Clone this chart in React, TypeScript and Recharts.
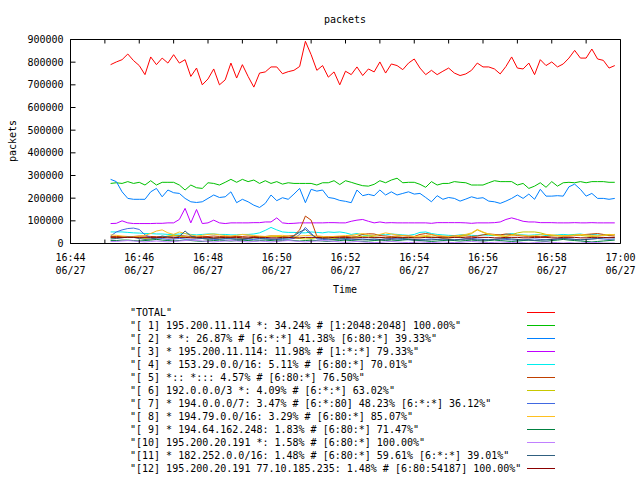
import React from 'react';
import { LineChart, Line, XAxis, YAxis } from 'recharts';

const FONT = '"DejaVu Sans Mono", "Liberation Mono", monospace';

// sample times, seconds after 16:44 (06/27)
const times = [
  70, 80, 90, 100, 110, 120, 130, 140, 150, 160,
  170, 180, 190, 200, 210, 220, 230, 240, 250, 260,
  270, 280, 290, 300, 310, 320, 330, 340, 350, 360,
  370, 380, 390, 400, 410, 420, 430, 440, 450, 460,
  470, 480, 490, 500, 510, 520, 530, 540, 550, 560,
  570, 580, 590, 600, 610, 620, 630, 640, 650, 660,
  670, 680, 690, 700, 710, 720, 730, 740, 750, 760,
  770, 780, 790, 800, 810, 820, 830, 840, 850, 860,
  870, 880, 890, 900, 910, 920, 930, 940, 950,
];

const xTicks = [0, 60, 120, 180, 240, 300, 360, 420, 480, 540, 600, 660, 720, 780, 840, 900, 960];
const xTickLabels: Record<number, string> = {
  0: '16:44', 120: '16:46', 240: '16:48', 360: '16:50', 480: '16:52',
  600: '16:54', 720: '16:56', 840: '16:58', 960: '17:00',
};
const dateLabel = '06/27';
const yTicks = [0, 100000, 200000, 300000, 400000, 500000, 600000, 700000, 800000, 900000];

// values in thousands of packets
const total = [
  789, 801, 811, 836, 807, 785, 745, 823, 789, 818,
  796, 833, 796, 811, 737, 774, 700, 726, 770, 700,
  722, 796, 730, 789, 737, 690, 752, 757, 779, 779,
  749, 758, 764, 781, 892, 833, 764, 785, 734, 757,
  700, 760, 745, 779, 741, 770, 757, 801, 752, 792,
  785, 767, 796, 814, 774, 745, 764, 745, 760, 774,
  752, 741, 748, 764, 796, 779, 779, 770, 748, 781,
  823, 774, 770, 796, 745, 811, 785, 801, 779, 792,
  818, 852, 818, 818, 858, 814, 808, 774, 785,
];
const s1 = [
  265, 268, 265, 273, 265, 270, 258, 277, 258, 270,
  270, 270, 258, 236, 258, 246, 243, 268, 265, 258,
  270, 283, 270, 283, 273, 280, 265, 277, 265, 273,
  262, 268, 265, 265, 265, 265, 258, 268, 268, 277,
  260, 277, 270, 262, 255, 253, 261, 277, 268, 280,
  288, 268, 270, 270, 261, 248, 273, 258, 265, 265,
  273, 270, 268, 258, 258, 258, 268, 277, 273, 273,
  273, 258, 265, 243, 253, 268, 248, 273, 253, 268,
  270, 268, 273, 268, 273, 273, 273, 270, 270,
];
const s2 = [
  283, 273, 228, 199, 195, 195, 195, 228, 243, 206,
  236, 224, 221, 199, 184, 181, 184, 199, 214, 203,
  206, 228, 180, 195, 184, 169, 159, 177, 214, 189,
  202, 195, 218, 243, 180, 239, 231, 236, 203, 199,
  190, 186, 180, 236, 211, 217, 211, 236, 214, 228,
  214, 221, 228, 218, 221, 203, 184, 211, 195, 203,
  199, 187, 196, 206, 199, 202, 187, 184, 177, 187,
  199, 214, 199, 218, 195, 239, 209, 209, 211, 209,
  250, 262, 239, 209, 221, 199, 199, 195, 199,
];
const s3 = [
  88, 89, 100, 91, 88, 88, 88, 88, 89, 89,
  91, 91, 106, 155, 91, 150, 88, 91, 103, 91,
  88, 91, 91, 91, 91, 92, 92, 95, 95, 113,
  91, 88, 89, 91, 91, 91, 91, 91, 92, 92,
  91, 91, 98, 103, 106, 98, 91, 95, 91, 92,
  91, 91, 91, 91, 91, 91, 89, 92, 92, 92,
  92, 92, 91, 89, 91, 91, 91, 92, 95, 106,
  113, 106, 98, 95, 95, 92, 92, 92, 91, 91,
  91, 92, 91, 91, 92, 91, 91, 91, 91,
];
const s4 = [
  51, 51, 51, 49, 47, 46, 44, 44, 42, 42,
  40, 40, 42, 44, 40, 38, 40, 42, 42, 40,
  40, 38, 38, 40, 40, 42, 47, 58, 71, 60,
  51, 49, 49, 47, 47, 51, 49, 47, 51, 49,
  51, 47, 40, 44, 38, 35, 36, 40, 38, 42,
  40, 38, 36, 40, 49, 51, 44, 40, 38, 36,
  35, 38, 40, 36, 35, 38, 36, 35, 38, 40,
  44, 40, 38, 36, 38, 40, 35, 36, 38, 40,
  38, 40, 42, 38, 40, 38, 36, 38, 40,
];
const s5 = [
  31, 31, 30, 30, 31, 33, 33, 31, 30, 30,
  31, 33, 35, 33, 31, 30, 30, 31, 33, 31,
  30, 30, 31, 31, 33, 31, 30, 31, 33, 33,
  31, 33, 35, 60, 121, 103, 32, 31, 30, 31,
  31, 31, 33, 31, 40, 43, 42, 35, 33, 31,
  33, 35, 33, 31, 40, 44, 40, 33, 31, 31,
  33, 35, 33, 31, 33, 38, 42, 40, 38, 42,
  40, 35, 33, 31, 31, 30, 31, 33, 35, 33,
  33, 35, 38, 40, 42, 44, 40, 35, 33,
];
const s6 = [
  25, 25, 27, 29, 27, 25, 22, 20, 22, 29,
  33, 36, 33, 29, 27, 25, 22, 20, 22, 25,
  27, 25, 22, 20, 22, 25, 27, 29, 33, 31,
  29, 27, 25, 22, 20, 22, 25, 27, 25, 22,
  22, 25, 27, 29, 31, 33, 29, 27, 25, 27,
  29, 27, 25, 27, 29, 31, 29, 27, 25, 25,
  27, 31, 36, 44, 60, 49, 40, 36, 33, 31,
  38, 47, 51, 51, 51, 47, 40, 36, 33, 33,
  36, 38, 36, 33, 31, 33, 36, 40, 38,
];
const s7 = [
  33, 51, 60, 66, 68, 62, 38, 27, 20, 22,
  18, 20, 22, 20, 18, 20, 22, 20, 18, 18,
  20, 22, 20, 18, 16, 18, 20, 22, 20, 18,
  18, 20, 22, 40, 71, 45, 20, 18, 16, 18,
  20, 18, 16, 18, 20, 18, 16, 18, 20, 22,
  20, 18, 16, 15, 16, 18, 20, 18, 16, 15,
  16, 18, 20, 22, 20, 18, 16, 18, 20, 18,
  16, 15, 16, 18, 20, 18, 16, 18, 20, 22,
  20, 18, 16, 18, 20, 22, 20, 18, 20,
];
const s8 = [
  38, 36, 33, 31, 29, 31, 36, 44, 55, 60,
  47, 40, 51, 44, 38, 33, 36, 40, 42, 38,
  35, 33, 36, 40, 38, 35, 33, 31, 33, 35,
  36, 33, 31, 33, 35, 36, 33, 31, 29, 31,
  33, 35, 36, 40, 44, 38, 35, 40, 47, 42,
  38, 35, 33, 31, 33, 35, 38, 36, 33, 31,
  33, 36, 40, 47, 62, 51, 42, 38, 35, 33,
  35, 38, 36, 33, 35, 38, 40, 38, 36, 35,
  33, 36, 40, 38, 35, 33, 36, 38, 40,
];
const s9 = [
  13, 13, 15, 15, 13, 11, 13, 15, 18, 15,
  13, 11, 13, 15, 13, 11, 9, 11, 13, 15,
  13, 11, 13, 15, 13, 11, 13, 15, 13, 11,
  13, 15, 13, 11, 13, 15, 13, 11, 9, 11,
  13, 15, 13, 11, 9, 11, 13, 15, 13, 11,
  13, 15, 18, 15, 13, 11, 9, 11, 13, 15,
  13, 11, 13, 15, 13, 11, 13, 15, 13, 11,
  9, 11, 13, 15, 13, 11, 9, 13, 15, 18,
  15, 13, 11, 9, 7, 9, 11, 13, 15,
];
const s10 = [
  9, 9, 11, 13, 11, 9, 7, 9, 11, 9,
  7, 9, 11, 13, 15, 13, 11, 9, 7, 9,
  11, 13, 11, 9, 7, 9, 11, 9, 7, 9,
  11, 13, 11, 9, 7, 9, 11, 13, 11, 9,
  7, 5, 7, 9, 7, 5, 4, 5, 7, 9,
  7, 5, 4, 5, 7, 5, 4, 5, 7, 5,
  4, 5, 7, 9, 7, 5, 4, 5, 7, 5,
  4, 5, 4, 2, 4, 5, 7, 5, 4, 2,
  4, 2, 2, 4, 5, 4, 2, 2, 2,
];
const s11 = [
  20, 22, 25, 29, 27, 22, 18, 20, 25, 33,
  29, 25, 31, 55, 33, 27, 22, 20, 22, 25,
  22, 20, 18, 20, 22, 25, 22, 20, 18, 20,
  22, 25, 33, 51, 62, 40, 25, 22, 20, 18,
  20, 22, 20, 18, 16, 18, 20, 18, 16, 18,
  20, 22, 20, 18, 16, 15, 16, 18, 20, 18,
  16, 18, 20, 18, 16, 15, 16, 18, 20, 22,
  20, 18, 16, 15, 13, 15, 16, 18, 20, 22,
  20, 18, 16, 18, 20, 22, 25, 27, 25,
];
const s12 = [
  27, 27, 27, 27, 27, 27, 27, 27, 27, 27,
  25, 25, 27, 27, 25, 25, 27, 27, 25, 25,
  27, 27, 27, 25, 25, 27, 27, 27, 25, 25,
  27, 27, 25, 25, 27, 27, 27, 25, 25, 27,
  27, 27, 25, 25, 27, 27, 27, 27, 25, 25,
  27, 27, 27, 25, 25, 27, 27, 27, 25, 25,
  27, 27, 25, 25, 27, 27, 27, 25, 25, 27,
  27, 27, 25, 25, 27, 27, 27, 25, 25, 27,
  27, 27, 25, 25, 27, 27, 27, 25, 27,
];

const seriesNames = [
  '"TOTAL"',
  '"[ 1] 195.200.11.114 *: 34.24% # [1:2048:2048] 100.00%"',
  '"[ 2] * *: 26.87% # [6:*:*] 41.38% [6:80:*] 39.33%"',
  '"[ 3] * 195.200.11.114: 11.98% # [1:*:*] 79.33%"',
  '"[ 4] * 153.29.0.0/16: 5.11% # [6:80:*] 70.01%"',
  '"[ 5] *:: *::: 4.57% # [6:80:*] 76.50%"',
  '"[ 6] 192.0.0.0/3 *: 4.09% # [6:*:*] 63.02%"',
  '"[ 7] * 194.0.0.0/7: 3.47% # [6:*:80] 48.23% [6:*:*] 36.12%"',
  '"[ 8] * 194.79.0.0/16: 3.29% # [6:80:*] 85.07%"',
  '"[ 9] * 194.64.162.248: 1.83% # [6:80:*] 71.47%"',
  '"[10] 195.200.20.191 *: 1.58% # [6:80:*] 100.00%"',
  '"[11] * 182.252.0.0/16: 1.48% # [6:80:*] 59.61% [6:*:*] 39.01%"',
  '"[12] 195.200.20.191 77.10.185.235: 1.48% # [6:80:54187] 100.00%"',
];
const seriesColors = [
  '#ff0000', '#00c000', '#0080ff', '#c000ff', '#00eeee', '#c04000', '#c8c800',
  '#4169e1', '#ffc020', '#008040', '#c080ff', '#306080', '#8b0000',
];
const seriesValues = [total, s1, s2, s3, s4, s5, s6, s7, s8, s9, s10, s11, s12];
const seriesKeys = seriesValues.map((_, i) => 'k' + i);

const data = times.map((t, i) => {
  const row: Record<string, number> = { t };
  seriesValues.forEach((vals, j) => {
    row[seriesKeys[j]] = vals[i] * 1000;
  });
  return row;
});

const BottomTick = (props: any) => {
  const { x, y, payload } = props;
  const label = xTickLabels[payload.value];
  if (!label) return <g />;
  return (
    <g>
      <text x={x} y={y + 14} textAnchor="middle" fontFamily={FONT} fontSize={10} fill="#000">
        {label}
      </text>
      <text x={x} y={y + 27} textAnchor="middle" fontFamily={FONT} fontSize={10} fill="#000">
        {dateLabel}
      </text>
    </g>
  );
};

const EmptyTick = () => <g />;

export default function App() {
  const legendTop = 312.5;
  const rowH = 13;
  return (
    <div style={{ position: 'absolute', left: 0, top: 0, width: 640, height: 480, background: '#fff' }}>
      <LineChart
        width={640}
        height={480}
        data={data}
        margin={{ top: 29.5, right: 0, bottom: 206.5, left: 0.5 }}
      >
        <XAxis
          xAxisId="bottom"
          dataKey="t"
          type="number"
          domain={[0, 960]}
          ticks={xTicks}
          interval={0}
          height={30}
          tickSize={-4}
          tickMargin={7}
          tick={<BottomTick />}
          stroke="#000"
          axisLine={{ stroke: '#000' }}
          tickLine={{ stroke: '#000' }}
        />
        <XAxis
          xAxisId="top"
          orientation="top"
          dataKey="t"
          type="number"
          domain={[0, 960]}
          ticks={xTicks}
          interval={0}
          height={10}
          tickSize={-4}
          tick={<EmptyTick />}
          axisLine={{ stroke: '#000' }}
          tickLine={{ stroke: '#000' }}
        />
        <YAxis
          yAxisId="left"
          type="number"
          domain={[0, 900000]}
          ticks={yTicks}
          interval={0}
          width={70}
          tickSize={-5}
          tickMargin={12}
          tick={{ fontFamily: FONT, fontSize: 10, fill: '#000' }}
          axisLine={{ stroke: '#000' }}
          tickLine={{ stroke: '#000' }}
        />
        <YAxis
          yAxisId="right"
          orientation="right"
          type="number"
          domain={[0, 900000]}
          ticks={yTicks}
          interval={0}
          width={19.5}
          tickSize={-5}
          tick={<EmptyTick />}
          axisLine={{ stroke: '#000' }}
          tickLine={{ stroke: '#000' }}
        />
        {seriesKeys.map((k, j) => (
          <Line
            key={k}
            xAxisId="bottom"
            yAxisId="left"
            dataKey={k}
            name={seriesNames[j]}
            type="linear"
            stroke={seriesColors[j]}
            strokeWidth={1}
            dot={false}
            activeDot={false}
            isAnimationActive={false}
          />
        ))}
      </LineChart>
      <svg
        width={640}
        height={480}
        style={{ position: 'absolute', left: 0, top: 0, pointerEvents: 'none' }}
      >
        <text x={345} y={19} textAnchor="middle" dominantBaseline="central" fontFamily={FONT} fontSize={10} fill="#000">
          packets
        </text>
        <text
          x={12}
          y={141}
          textAnchor="middle"
          dominantBaseline="central"
          transform="rotate(-90 12 141)"
          fontFamily={FONT}
          fontSize={10}
          fill="#000"
        >
          packets
        </text>
        <text x={345} y={289} textAnchor="middle" dominantBaseline="central" fontFamily={FONT} fontSize={10} fill="#000">
          Time
        </text>
        {seriesNames.map((name, j) => (
          <g key={name}>
            <text
              x={130}
              y={legendTop + j * rowH}
              dominantBaseline="central"
              fontFamily={FONT}
              fontSize={10}
              fill="#000"
              xmlSpace="preserve"
            >
              {name}
            </text>
            <line
              x1={527}
              x2={555}
              y1={legendTop + j * rowH}
              y2={legendTop + j * rowH}
              stroke={seriesColors[j]}
              strokeWidth={1}
              shapeRendering="crispEdges"
            />
          </g>
        ))}
      </svg>
    </div>
  );
}
